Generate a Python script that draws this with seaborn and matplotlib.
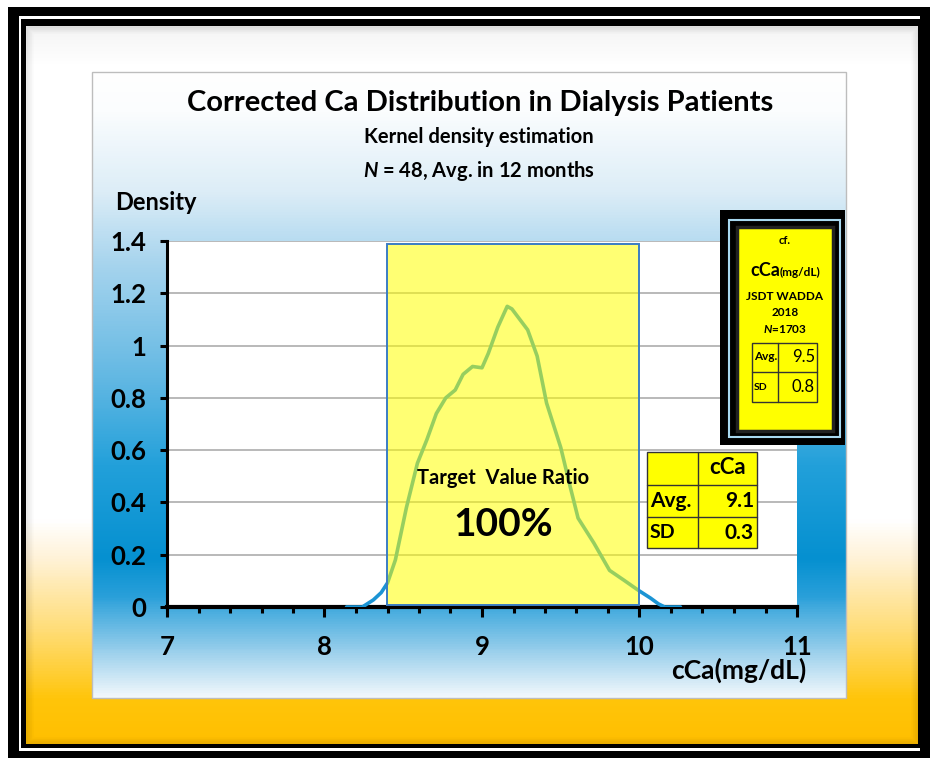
import numpy as np
import matplotlib
matplotlib.use("Agg")
import matplotlib.pyplot as plt
import seaborn as sns
from matplotlib import font_manager
from matplotlib.patches import Rectangle
from matplotlib.colors import LinearSegmentedColormap

# ---- data ----
cca_x = [8.14, 8.24, 8.31, 8.36, 8.40, 8.45, 8.52, 8.59, 8.65, 8.71, 8.77, 8.83,
         8.88, 8.94, 9.00, 9.04, 9.10, 9.16, 9.19, 9.24, 9.29, 9.35, 9.41,
         9.50, 9.56, 9.61, 9.71, 9.81, 9.90, 9.99, 10.07, 10.12, 10.16, 10.26]
density = [0, 0, 0.027, 0.055, 0.092, 0.18, 0.38, 0.55, 0.64, 0.74, 0.80, 0.83,
           0.89, 0.92, 0.915, 0.97, 1.07, 1.15, 1.14, 1.10, 1.06, 0.96, 0.78,
           0.61, 0.46, 0.34, 0.245, 0.14, 0.103, 0.065, 0.034, 0.012, 0, 0]

target_low = 8.4
target_high = 10.0
target_box_top = 1.39
target_ratio = "100%"

n_patients = 48
own_avg = 9.1
own_sd = 0.3

wadda_n = 1703
wadda_year = 2018
wadda_avg = 9.5
wadda_sd = 0.8

x_ticks = [7, 8, 9, 10, 11]
x_tick_labels = ["7", "8", "9", "10", "11"]
y_ticks = [0, 0.2, 0.4, 0.6, 0.8, 1.0, 1.2, 1.4]
y_tick_labels = ["0", "0.2", "0.4", "0.6", "0.8", "1", "1.2", "1.4"]

# ---- style ----
sns.set_style("white")
names = {f.name for f in font_manager.fontManager.ttflist}
base = "Lato" if "Lato" in names else "Liberation Sans"
plt.rcParams["font.family"] = [base, "DejaVu Sans"]
plt.rcParams["font.weight"] = "bold"
plt.rcParams["mathtext.fontset"] = "custom"
plt.rcParams["mathtext.it"] = base + ":italic:bold"
plt.rcParams["mathtext.rm"] = base + ":bold"
plt.rcParams["text.color"] = "black"
plt.rcParams["xtick.color"] = "black"
plt.rcParams["ytick.color"] = "black"

W, H = 933, 760
fig = plt.figure(figsize=(W / 100, H / 100), dpi=100)


def fig_rect(x0, y0, x1, y1):
    return [x0 / W, 1 - y1 / H, (x1 - x0) / W, (y1 - y0) / H]


def vgrad(stops):
    return LinearSegmentedColormap.from_list("g", stops)


grad = np.linspace(0, 1, 500)[:, None]

# background, frame and panel (pixel coordinates)
bg = fig.add_axes([0, 0, 1, 1], zorder=0)
bg.set_xlim(0, W)
bg.set_ylim(H, 0)
bg.axis("off")
bg.add_patch(Rectangle((8, 7), 922, 751, fc="black", ec="none"))
bg.add_patch(Rectangle((19, 16), 901, 735, fc="white", ec="none"))
bg.add_patch(Rectangle((21, 19), 900, 729, fc="black", ec="none"))

outer = vgrad([(0, "#f4f4f4"), (0.05, "#ffffff"), (0.69, "#ffffff"),
               (0.74, "#fff3da"), (0.86, "#ffd966"), (0.94, "#ffc50a"),
               (1, "#ffbf00")])
bg.imshow(grad, cmap=outer, extent=(26, 918, 744, 26), aspect="auto", zorder=1)
for i in range(8):
    bg.add_patch(Rectangle((26 + i, 26 + i), 892 - 2 * i, 718 - 2 * i, fill=False,
                           ec="black", alpha=0.07 * (8 - i) / 8, lw=1, zorder=2))

panel = vgrad([(0, "#ffffff"), (0.06, "#fbfdfe"), (0.19, "#dcedf7"),
               (0.30, "#a9d5ee"), (0.49, "#62b8e3"), (0.63, "#22a0da"),
               (0.78, "#0590d0"), (0.84, "#2aa0da"), (0.92, "#90cbea"),
               (1, "#f2f8fc")])
bg.imshow(grad, cmap=panel, extent=(92, 846, 698, 72), aspect="auto", zorder=3)
bg.add_patch(Rectangle((92, 72), 754, 626, fill=False, ec="#bdbdbd", lw=1, zorder=4))

# ---- main chart ----
ax = fig.add_axes(fig_rect(167, 241, 797, 607), zorder=2)
ax.set_facecolor("white")
sns.lineplot(x=cca_x, y=density, ax=ax, color="#1b94d4", lw=2.6, zorder=7)
ax.add_patch(Rectangle((target_low, 0.008), target_high - target_low, target_box_top - 0.008,
                       fc=(1, 1, 0, 0.55), ec="#3b7dc4", lw=1.4, zorder=8))

ax.set_xlim(7, 11)
ax.set_ylim(0, 1.4)
ax.set_xticks(x_ticks)
ax.set_xticklabels(x_tick_labels, fontweight="bold")
ax.set_xticks(np.arange(7, 11.01, 0.2), minor=True)
ax.set_yticks(y_ticks)
ax.set_yticklabels(y_tick_labels, fontweight="bold")
ax.set_xlabel("")
ax.set_ylabel("")
ax.grid(axis="y", color="#a5a5a5", lw=1.1)
ax.set_axisbelow(True)
for s in ["top", "right"]:
    ax.spines[s].set_visible(False)
ax.spines["left"].set_linewidth(2.2)
ax.spines["bottom"].set_linewidth(3)
ax.spines["left"].set_color("black")
ax.spines["bottom"].set_color("black")
ax.spines["bottom"].set_zorder(6)
ax.spines["left"].set_zorder(6)
ax.tick_params(axis="x", which="major", length=7, width=2.2, direction="out",
               pad=13, labelsize=18.5, color="black", bottom=True)
ax.tick_params(axis="x", which="minor", length=4.5, width=2.2, direction="out",
               color="black", bottom=True)
ax.tick_params(axis="y", length=5, width=2.2, direction="out", pad=10,
               labelsize=18.5, color="black", left=True)

# ---- overlay: titles, labels, tables ----
ov = fig.add_axes([0, 0, 1, 1], zorder=5)
ov.set_xlim(0, W)
ov.set_ylim(H, 0)
ov.axis("off")
ov.patch.set_alpha(0)

ov.text(480, 103, "Corrected Ca Distribution in Dialysis Patients", ha="center",
        va="center", fontsize=21)
ov.text(479, 137, "Kernel density estimation", ha="center", va="center", fontsize=14.5)
ov.text(479, 171, rf"$\mathit{{N}}$ = {n_patients}, Avg. in 12 months", ha="center",
        va="center", fontsize=14.5)
ov.text(115, 203, "Density", ha="left", va="center", fontsize=17)
ov.text(806, 670, "cCa(mg/dL)", ha="right", va="center", fontsize=19)

ov.text(503, 478, "Target  Value Ratio", ha="center", va="center", fontsize=14.5)
ov.text(503, 524, target_ratio, ha="center", va="center", fontsize=28)

# own statistics table
ov.add_patch(Rectangle((647, 452), 110, 96, fc="#ffff00", ec="#333333", lw=1))
ov.plot([698, 698], [452, 548], color="#333333", lw=1)
ov.plot([647, 757], [485, 485], color="#333333", lw=1)
ov.plot([647, 757], [517, 517], color="#333333", lw=1)
ov.text(728, 468, "cCa", ha="center", va="center", fontsize=16)
ov.text(650, 501, "Avg.", ha="left", va="center", fontsize=15)
ov.text(754, 501, f"{own_avg}", ha="right", va="center", fontsize=15)
ov.text(650, 533, "SD", ha="left", va="center", fontsize=14)
ov.text(754, 533, f"{own_sd}", ha="right", va="center", fontsize=15)

# reference (JSDT WADDA) box
ov.add_patch(Rectangle((720, 210), 125, 235, fc="black", ec="none"))
ov.add_patch(Rectangle((729, 220), 111, 217, fill=False, ec="#a8d8f0", lw=1.5))
ov.add_patch(Rectangle((737, 227), 96, 204, fc="#ffff00", ec="#222222", lw=2.5))
ov.text(785, 240, "cf.", ha="center", va="center", fontsize=8)
ov.text(780, 276, "cCa", ha="right", va="baseline", fontsize=13)
ov.text(780, 276, "(mg/dL)", ha="left", va="baseline", fontsize=8.5)
ov.text(785, 296, "JSDT WADDA", ha="center", va="center", fontsize=8.5)
ov.text(785, 312, f"{wadda_year}", ha="center", va="center", fontsize=8.5)
ov.text(785, 329, rf"$\mathit{{N}}$={wadda_n}", ha="center", va="center", fontsize=8.5)
ov.add_patch(Rectangle((752, 343), 65, 59, fill=False, ec="#333333", lw=1))
ov.plot([778, 778], [343, 402], color="#333333", lw=1)
ov.plot([752, 817], [372, 372], color="#333333", lw=1)
ov.text(754, 357, "Avg.", ha="left", va="center", fontsize=8.5)
ov.text(815, 357, f"{wadda_avg}", ha="right", va="center", fontsize=12, fontweight="normal")
ov.text(754, 387, "SD", ha="left", va="center", fontsize=7.5)
ov.text(815, 387, f"{wadda_sd}", ha="right", va="center", fontsize=12, fontweight="normal")

fig.savefig("out.png", dpi=100)
